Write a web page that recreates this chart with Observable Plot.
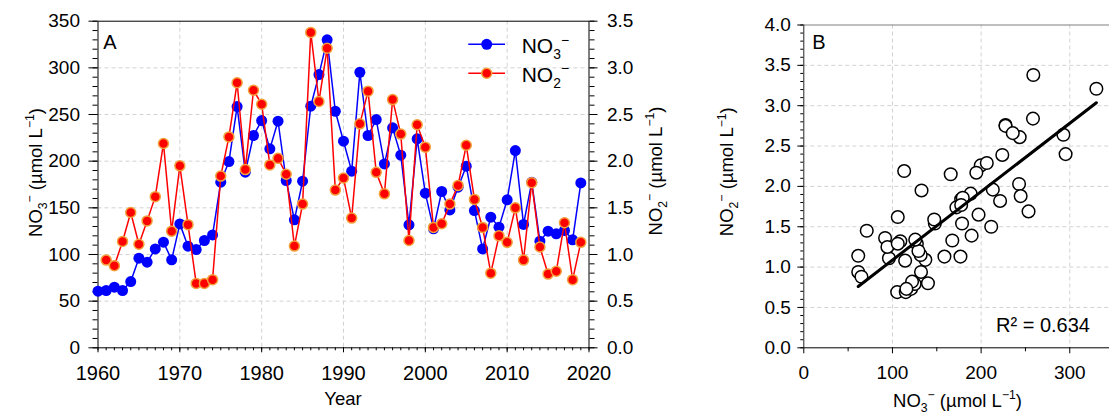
<!DOCTYPE html>
<html><head><meta charset="utf-8">
<script src="https://cdn.jsdelivr.net/npm/d3@7"></script>
<script src="https://cdn.jsdelivr.net/npm/@observablehq/plot@0.6"></script>
<style>
html,body{margin:0;padding:0;background:#fff;overflow:hidden;width:1109px;height:416px;}
#wrap{position:relative;width:1109px;height:416px;overflow:hidden;font-family:"Liberation Sans",Arial,Helvetica,sans-serif;}
#a{position:absolute;left:0;top:0;width:700px;height:416px;}
#b{position:absolute;left:700px;top:0;width:460px;height:416px;}
#wrap svg{max-width:none !important;}
svg text{font-family:"Liberation Sans",Arial,Helvetica,sans-serif;}
</style></head><body><div id="wrap"><div id="a"></div><div id="b"></div></div>
<script>
// ---- data ----
const years = [1960,1961,1962,1963,1964,1965,1966,1967,1968,1969,
  1970,1971,1972,1973,1974,1975,1976,1977,1978,1979,
  1980,1981,1982,1983,1984,1985,1986,1987,1988,1989,
  1990,1991,1992,1993,1994,1995,1996,1997,1998,1999,
  2000,2001,2002,2003,2004,2005,2006,2007,2008,2009,
  2010,2011,2012,2013,2014,2015,2016,2017,2018,2019];
// NO3- (umol/L)
const no3 = [60.7,61.4,65.0,61.4,71.0,96.0,91.7,106.0,113.2,94.3,
  132.8,108.9,105.3,115.0,121.0,177.5,199.6,258.5,188.2,227.5,
  243.5,213.2,242.8,179.3,137.1,178.5,258.9,292.8,330.0,253.5,
  221.4,189.3,295.3,227.5,244.6,197.1,235.7,206.4,131.8,223.9,
  165.7,127.5,167.5,147.8,172.1,194.6,147.1,106.0,140.0,129.3,
  158.6,211.4,132.2,177.5,114.3,125.0,122.1,125.7,115.7,176.7];
// NO2- (umol/L)
const no2 = [null,0.94,0.88,1.14,1.45,1.11,1.36,1.62,2.19,1.25,
  1.95,1.32,0.69,0.69,0.73,1.84,2.26,2.84,1.91,2.76,
  2.61,1.96,2.03,1.86,1.09,1.54,3.38,2.64,3.21,1.69,
  1.82,1.39,2.40,2.75,1.88,1.65,2.66,2.29,1.15,2.39,
  2.15,1.29,1.33,1.54,1.74,2.17,1.59,1.29,0.80,1.20,
  1.13,1.50,0.94,1.77,1.08,0.79,0.82,1.34,0.73,1.13];
const yearTicks = [1960,1970,1980,1990,2000,2010,2020];
const no3Ticks = [0,50,100,150,200,250,300,350];
const scatterXTicks = [0,100,200,300];
const scatterYTicks = [0,0.5,1,1.5,2,2.5,3,3.5,4];
const r2Label = "R² = 0.634";

// ---- helpers ----
const FONT = '"Liberation Sans", Arial, Helvetica, sans-serif';
const GRID = {stroke: "#d2d2d2", strokeOpacity: 1, strokeDasharray: "4,3", strokeWidth: 1};
const idx = years.map((_, i) => i);
const pairs = idx.filter(i => no2[i] != null).map(i => ({no3: no3[i], no2: no2[i]}));
const no2Scaled = i => (no2[i] == null ? NaN : no2[i] * 100);
const minorYears = d3.range(1960, 2021, 1);
const minorNo3 = d3.range(0, 351, 10);

function rich(parent, {x, y, rotate = 0, size, anchor = "middle", parts}) {
  const t = parent.append("text")
    .attr("transform", `translate(${x},${y}) rotate(${rotate})`)
    .attr("text-anchor", anchor)
    .attr("font-family", FONT)
    .attr("font-size", size)
    .attr("fill", "#000");
  let cur = 0;
  for (const [s, type] of parts) {
    const shift = type === "sub" ? 0.28 * size : type === "sup" ? -0.4 * size : 0;
    t.append("tspan")
      .attr("dy", shift - cur)
      .attr("font-size", type ? size * 0.66 : size)
      .text(s);
    cur = shift;
  }
  return t;
}
const no3Parts = [["NO", 0], ["3", "sub"], ["\u2212", "sup"]];
const no2Parts = [["NO", 0], ["2", "sub"], ["\u2212", "sup"]];
const unitParts = [[" (\u00B5mol L", 0], ["\u22121", "sup"], [")", 0]];

// ---- Panel A ----
const plotA = Plot.plot({
  width: 700, height: 416,
  marginLeft: 97.5, marginRight: 111.5, marginTop: 20.7, marginBottom: 68.7,
  style: {fontFamily: FONT, fontSize: "19px", background: "transparent", color: "#000", overflow: "visible", maxWidth: "none"},
  x: {domain: [1960, 2020], label: null},
  y: {domain: [0, 350], label: null},
  marks: [
    Plot.gridX([1970, 1980, 1990, 2000, 2010], GRID),
    Plot.gridY([50, 100, 150, 200, 250, 300], GRID),
    Plot.axisX(minorYears, {tickSize: 3, tickFormat: () => "", label: null}),
    Plot.axisX(yearTicks, {tickSize: 5, tickPadding: 13, tickFormat: d => String(d), fontSize: 20, label: null}),
    Plot.axisY(minorNo3, {anchor: "left", tickSize: 5, tickFormat: () => "", label: null}),
    Plot.axisY(no3Ticks, {anchor: "left", tickSize: 9, tickPadding: 9, fontSize: 19, label: null}),
    Plot.axisY(minorNo3, {anchor: "right", tickSize: 5, tickFormat: () => "", label: null}),
    Plot.axisY(no3Ticks, {anchor: "right", tickSize: 8, tickPadding: 10, fontSize: 19, tickFormat: d => (d / 100).toFixed(1), label: null}),
    Plot.frame({stroke: "#000", strokeWidth: 1}),
    Plot.line(idx, {x: i => years[i], y: i => no3[i], stroke: "#0000ff", strokeWidth: 1.5}),
    Plot.dot(idx, {x: i => years[i], y: i => no3[i], r: 5.5, fill: "#0000ff"}),
    Plot.line(idx, {x: i => years[i], y: no2Scaled, stroke: "#ff0000", strokeWidth: 1.5}),
    Plot.dot(idx, {x: i => years[i], y: no2Scaled, r: 5, fill: "#ff0000", stroke: "#f2a23c", strokeWidth: 1.5})
  ]
});
document.getElementById("a").appendChild(plotA);
{
  const svg = d3.select(plotA);
  const g = svg.append("g");
  g.append("text").attr("x", 110).attr("y", 49.3).attr("font-size", 20).attr("font-family", FONT).text("A");
  rich(g, {x: 41.7, y: 172.5, rotate: -90, size: 18.5, parts: [...no3Parts, ...unitParts]});
  rich(g, {x: 661.7, y: 171, rotate: -90, size: 18.5, parts: [...no2Parts, ...unitParts]});
  g.append("text").attr("x", 343).attr("y", 405).attr("text-anchor", "middle")
    .attr("font-size", 18.5).attr("font-family", FONT).text("Year");
  const leg = g.append("g");
  leg.append("line").attr("x1", 468.3).attr("x2", 505).attr("y1", 44.3).attr("y2", 44.3).attr("stroke", "#0000ff").attr("stroke-width", 1.5);
  leg.append("circle").attr("cx", 486.7).attr("cy", 44.3).attr("r", 5.5).attr("fill", "#0000ff");
  rich(leg, {x: 521.7, y: 53.3, size: 21, anchor: "start", parts: no3Parts});
  leg.append("line").attr("x1", 468.3).attr("x2", 505).attr("y1", 73.3).attr("y2", 73.3).attr("stroke", "#ff0000").attr("stroke-width", 1.5);
  leg.append("circle").attr("cx", 486.7).attr("cy", 73.3).attr("r", 5).attr("fill", "#ff0000").attr("stroke", "#f2a23c").attr("stroke-width", 1.5);
  rich(leg, {x: 521.7, y: 81.7, size: 21, anchor: "start", parts: no2Parts});
}

// ---- Panel B ----
const plotB = Plot.plot({
  width: 460, height: 416,
  marginLeft: 103.3, marginRight: 46.4, marginTop: 24.5, marginBottom: 68.7,
  style: {fontFamily: FONT, fontSize: "19px", background: "transparent", color: "#000", overflow: "visible", maxWidth: "none"},
  x: {domain: [0, 350], label: null},
  y: {domain: [0, 4], label: null},
  marks: [
    Plot.gridX([100, 200, 300], GRID),
    Plot.gridY([0.5, 1, 1.5, 2, 2.5, 3, 3.5], GRID),
    Plot.axisX([50, 150, 250, 350], {tickSize: 4, tickFormat: () => "", label: null}),
    Plot.axisX(scatterXTicks, {tickSize: 6, tickPadding: 12, fontSize: 19, label: null}),
    Plot.axisY(d3.range(0, 41).map(k => k / 10), {anchor: "left", tickSize: 3, tickFormat: () => "", label: null}),
    Plot.axisY(scatterYTicks, {anchor: "left", tickSize: 6, tickPadding: 7, fontSize: 19, tickFormat: d => d.toFixed(1), label: null}),
    Plot.ruleY([4], {stroke: "#808080", strokeWidth: 1.2}),
    Plot.ruleX([0], {stroke: "#222"}),
    Plot.ruleY([0], {stroke: "#000"}),
    Plot.dot(pairs, {x: "no3", y: "no2", r: 6.3, stroke: "#000", strokeWidth: 1.5, fill: "#fff"}),
    Plot.linearRegressionY(pairs, {x: "no3", y: "no2", stroke: "#000", strokeWidth: 3, ci: 0})
  ]
});
document.getElementById("b").appendChild(plotB);
{
  const svg = d3.select(plotB);
  const g = svg.append("g");
  g.append("text").attr("x", 119).attr("y", 49.3).attr("font-size", 20).attr("font-family", FONT).text("B");
  g.append("text").attr("x", 390).attr("y", 331.7).attr("text-anchor", "end").attr("font-size", 20).attr("font-family", FONT).text(r2Label);
  rich(g, {x: 33.3, y: 171.7, rotate: -90, size: 18.5, parts: [...no2Parts, ...unitParts]});
  rich(g, {x: 257.5, y: 406.5, size: 18.5, parts: [...no3Parts, ...unitParts]});
}
</script>
</body></html>
